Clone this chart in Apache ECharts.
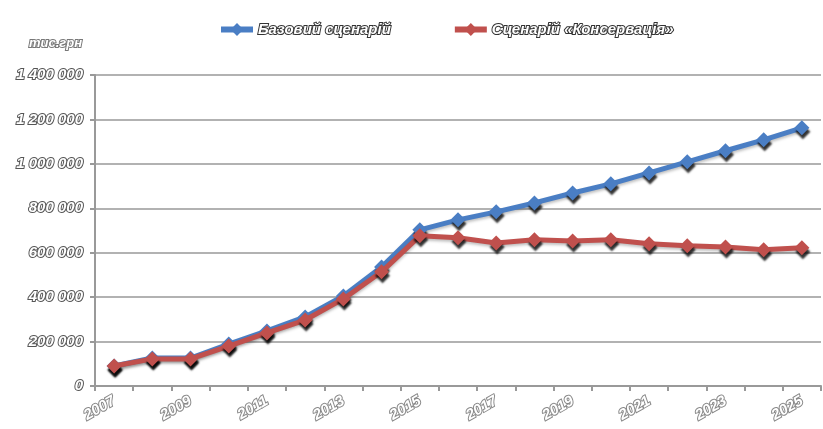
<!DOCTYPE html>
<html>
<head>
<meta charset="utf-8">
<script src="https://cdn.jsdelivr.net/npm/echarts@6/dist/echarts.min.js"></script>
<style>
  html, body { margin: 0; padding: 0; background: #fff; }
  #chart { width: 823px; height: 429px; }
</style>
</head>
<body>
<div id="chart"></div>
<script>
// Years on the horizontal axis
const years = ['2007','2008','2009','2010','2011','2012','2013','2014','2015','2016',
               '2017','2018','2019','2020','2021','2022','2023','2024','2025'];

// Base scenario, thousand UAH
const baseScenario = [90000, 126000, 126000, 189000, 248000, 311000, 405000, 536000, 703000, 748000,
                      784000, 824000, 869000, 910000, 959000, 1009000, 1059000, 1108000, 1162000];

// Conservation scenario, thousand UAH
const conservationScenario = [90000, 122000, 122000, 180000, 239000, 297000, 392000, 514000, 676000, 667000,
                              644000, 658000, 653000, 658000, 640000, 631000, 626000, 613000, 622000];

const seriesNames = ['Базовий сценарій', 'Сценарій «Консервація»'];
const unitLabel = 'тис.грн';

const fmt = v => String(v).replace(/\B(?=(\d{3})+(?!\d))/g, ' ');

// Hollow, outlined italic lettering used for all chart text
const textStyle = {
  fontFamily: 'Liberation Sans',
  fontStyle: 'italic',
  fontWeight: 'bold',
  fontSize: 15,
  color: '#fff',
  textBorderColor: '#555',
  textBorderWidth: 2
};

const chart = echarts.init(document.getElementById('chart'));

function lineSeries(name, data, color) {
  return {
    name: name,
    type: 'line',
    data: data,
    symbol: 'diamond',
    symbolSize: 15,
    lineStyle: { width: 5, color: color, shadowColor: 'rgba(0,0,0,0.25)', shadowBlur: 3, shadowOffsetY: 2 },
    itemStyle: { color: color, shadowColor: 'rgba(0,0,0,0.8)', shadowBlur: 2, shadowOffsetY: 4, shadowOffsetX: 1 },
    emphasis: { disabled: true },
    z: name === seriesNames[1] ? 3 : 2
  };
}

chart.setOption({
  animation: false,
  backgroundColor: '#fff',
  legend: {
    top: 16,
    left: 213,
    itemGap: 60,
    itemWidth: 32,
    itemHeight: 16,
    lineStyle: { width: 6 },
    textStyle: Object.assign({}, textStyle, { fontSize: 15, textBorderColor: '#333' }),
    data: seriesNames
  },
  graphic: [{
    type: 'text',
    left: 28,
    top: 36,
    style: {
      text: unitLabel,
      fill: '#fff',
      stroke: '#777',
      lineWidth: 2,
      font: 'italic bold 13px "Liberation Sans"'
    }
  }],
  grid: { left: 95, right: 2, top: 75, bottom: 43, containLabel: false },
  xAxis: {
    type: 'category',
    data: years,
    boundaryGap: true,
    axisLine: { lineStyle: { color: '#999', width: 2 } },
    axisTick: { show: true, interval: 0, length: 5, lineStyle: { color: '#999', width: 2 } },
    axisLabel: Object.assign({ interval: 1, rotate: 30, margin: 14 }, textStyle, { textBorderColor: '#888' })
  },
  yAxis: {
    type: 'value',
    min: 0,
    max: 1400000,
    interval: 200000,
    axisLine: { show: true, lineStyle: { color: '#999', width: 2 } },
    axisTick: { show: true, length: 5, lineStyle: { color: '#999', width: 2 } },
    splitLine: { lineStyle: { color: '#999', width: 1.5 } },
    axisLabel: Object.assign({ margin: 12, formatter: fmt }, textStyle)
  },
  series: [
    lineSeries(seriesNames[0], baseScenario, '#4a7ec4'),
    lineSeries(seriesNames[1], conservationScenario, '#c0504d')
  ]
});
</script>
</body>
</html>
